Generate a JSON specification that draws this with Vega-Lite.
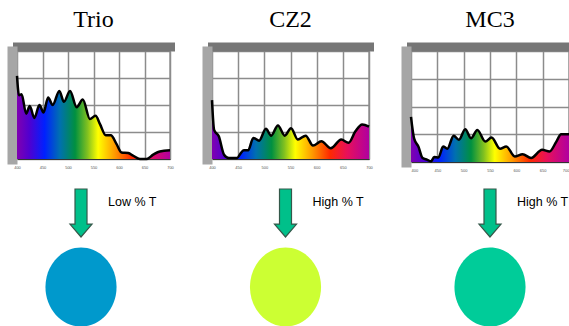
{
  "$schema": "https://vega.github.io/schema/vega-lite/v6.json",
  "autosize": {"type": "pad"},
  "padding": {"left": 7, "top": 6, "right": 0, "bottom": 0},
  "background": "white",
  "config": {
    "view": {"stroke": "#9a9a9a", "strokeWidth": 1.5},
    "title": {"font": "Liberation Serif", "fontSize": 24, "fontWeight": "normal", "color": "black", "offset": 15}
  },
  "datasets": {
    "trio": [
      {"wl": 400, "t": 77}, {"wl": 404, "t": 59}, {"wl": 409, "t": 60}, {"wl": 418, "t": 42},
      {"wl": 425, "t": 49}, {"wl": 434, "t": 38}, {"wl": 444, "t": 50}, {"wl": 452, "t": 43},
      {"wl": 461, "t": 57}, {"wl": 470, "t": 50}, {"wl": 483, "t": 63}, {"wl": 492, "t": 53},
      {"wl": 504, "t": 63}, {"wl": 517, "t": 48}, {"wl": 529, "t": 55}, {"wl": 543, "t": 37},
      {"wl": 554, "t": 40}, {"wl": 563, "t": 32}, {"wl": 574, "t": 22}, {"wl": 584, "t": 22},
      {"wl": 595, "t": 14}, {"wl": 605, "t": 6}, {"wl": 618, "t": 5.5}, {"wl": 628, "t": 3},
      {"wl": 641, "t": 0}, {"wl": 654, "t": 0}, {"wl": 667, "t": 4}, {"wl": 680, "t": 7},
      {"wl": 700, "t": 8}
    ],
    "cz2": [
      {"wl": 400, "t": 54.5}, {"wl": 404, "t": 27}, {"wl": 413, "t": 21}, {"wl": 423, "t": 4},
      {"wl": 432, "t": 1}, {"wl": 448, "t": 1}, {"wl": 455, "t": 5.5}, {"wl": 461, "t": 8},
      {"wl": 469, "t": 8}, {"wl": 479, "t": 19.5}, {"wl": 490, "t": 17}, {"wl": 503, "t": 28},
      {"wl": 513, "t": 21.6}, {"wl": 526, "t": 31}, {"wl": 539, "t": 21.6}, {"wl": 551, "t": 28.5},
      {"wl": 564, "t": 18}, {"wl": 579, "t": 21.6}, {"wl": 593, "t": 12.4}, {"wl": 609, "t": 16.4},
      {"wl": 627, "t": 10}, {"wl": 647, "t": 18}, {"wl": 661, "t": 15}, {"wl": 674, "t": 25.6},
      {"wl": 687, "t": 32}, {"wl": 700, "t": 30}
    ],
    "mc3": [
      {"wl": 400, "t": 40.7}, {"wl": 406, "t": 21}, {"wl": 414, "t": 14}, {"wl": 422, "t": 3.6},
      {"wl": 431, "t": 2}, {"wl": 438, "t": 0.5}, {"wl": 444, "t": 4.5}, {"wl": 452, "t": 4},
      {"wl": 461, "t": 14}, {"wl": 469, "t": 12}, {"wl": 481, "t": 23.7}, {"wl": 491, "t": 20},
      {"wl": 503, "t": 29.4}, {"wl": 514, "t": 21.4}, {"wl": 526, "t": 28.8}, {"wl": 541, "t": 18.4},
      {"wl": 553, "t": 22}, {"wl": 569, "t": 12}, {"wl": 581, "t": 14}, {"wl": 597, "t": 5},
      {"wl": 612, "t": 7}, {"wl": 628, "t": 3.6}, {"wl": 649, "t": 11}, {"wl": 663, "t": 9.5},
      {"wl": 676, "t": 18.4}, {"wl": 685, "t": 25}, {"wl": 700, "t": 25}
    ],
    "samples": [
      {"sample": "Trio", "label": "Low % T", "swatch": "#0099cc"},
      {"sample": "CZ2", "label": "High % T", "swatch": "#ccff33"},
      {"sample": "MC3", "label": "High % T", "swatch": "#00cc99"}
    ]
  },
  "spacing": 13,
  "vconcat": [
    {
      "bounds": "flush",
      "spacing": 42,
      "hconcat": [
        {
          "title": "Trio",
          "width": 153, "height": 108,
          "data": {"name": "trio"},
          "encoding": {
            "y": {"field": "t", "type": "quantitative", "scale": {"domain": [0, 100]},
              "axis": {"values": [0, 25, 50, 75, 100], "grid": true, "gridColor": "#8c8c8c", "gridWidth": 1.5, "gridOpacity": 1,
                "domain": true, "domainColor": "#a6a6a6", "domainWidth": 10, "offset": 5, "domainCap": "square",
                "ticks": false, "labelFontSize": 4, "labelColor": "#333", "labelPadding": -3, "title": null}}
          },
          "layer": [
            {"mark": {"type": "area", "interpolate": "monotone",
              "fill": {"gradient": "linear", "x1": 0, "x2": 1, "y1": 0, "y2": 0, "stops": [
                {"offset": 0, "color": "#8000b0"}, {"offset": 0.08, "color": "#5000d0"}, {"offset": 0.18, "color": "#0020ff"},
                {"offset": 0.28, "color": "#0070b0"}, {"offset": 0.38, "color": "#009040"}, {"offset": 0.46, "color": "#80c020"},
                {"offset": 0.53, "color": "#ffff00"}, {"offset": 0.64, "color": "#ff9900"}, {"offset": 0.75, "color": "#ff2a00"},
                {"offset": 0.86, "color": "#e8105a"}, {"offset": 1, "color": "#b000a0"}]}},
              "encoding": {"x": {"field": "wl", "type": "quantitative", "scale": {"domain": [400, 700], "nice": false, "zero": false},
                "axis": {"orient": "bottom", "values": [400, 450, 500, 550, 600, 650, 700], "grid": true, "gridColor": "#8c8c8c", "gridWidth": 1.5, "gridOpacity": 1,
                  "domain": true, "domainColor": "#333", "domainWidth": 1, "ticks": false, "labelFontSize": 4, "labelColor": "#555", "labelPadding": 6, "labelFlush": false, "title": null}}}},
            {"mark": {"type": "line", "interpolate": "monotone", "color": "black", "strokeWidth": 2.5},
              "encoding": {"x": {"field": "wl", "type": "quantitative",
                "axis": {"orient": "top", "grid": false, "labels": false, "ticks": false, "title": null, "domain": true, "domainColor": "#767676", "domainWidth": 9, "offset": 4.5, "domainCap": "square"}}}}
          ],
          "resolve": {"axis": {"x": "independent"}}
        },
        {
          "title": "CZ2",
          "width": 157, "height": 108,
          "data": {"name": "cz2"},
          "encoding": {
            "y": {"field": "t", "type": "quantitative", "scale": {"domain": [0, 100]},
              "axis": {"values": [0, 25, 50, 75, 100], "grid": true, "gridColor": "#8c8c8c", "gridWidth": 1.5, "gridOpacity": 1,
                "domain": true, "domainColor": "#a6a6a6", "domainWidth": 10, "offset": 5, "domainCap": "square",
                "ticks": false, "labelFontSize": 4, "labelColor": "#333", "labelPadding": -3, "title": null}}
          },
          "layer": [
            {"mark": {"type": "area", "interpolate": "monotone",
              "fill": {"gradient": "linear", "x1": 0, "x2": 1, "y1": 0, "y2": 0, "stops": [
                {"offset": 0, "color": "#8000b0"}, {"offset": 0.08, "color": "#5000d0"}, {"offset": 0.18, "color": "#0020ff"},
                {"offset": 0.28, "color": "#0070b0"}, {"offset": 0.38, "color": "#009040"}, {"offset": 0.46, "color": "#80c020"},
                {"offset": 0.53, "color": "#ffff00"}, {"offset": 0.64, "color": "#ff9900"}, {"offset": 0.75, "color": "#ff2a00"},
                {"offset": 0.86, "color": "#e8105a"}, {"offset": 1, "color": "#b000a0"}]}},
              "encoding": {"x": {"field": "wl", "type": "quantitative", "scale": {"domain": [400, 700], "nice": false, "zero": false},
                "axis": {"orient": "bottom", "values": [400, 450, 500, 550, 600, 650, 700], "grid": true, "gridColor": "#8c8c8c", "gridWidth": 1.5, "gridOpacity": 1,
                  "domain": true, "domainColor": "#333", "domainWidth": 1, "ticks": false, "labelFontSize": 4, "labelColor": "#555", "labelPadding": 6, "labelFlush": false, "title": null}}}},
            {"mark": {"type": "line", "interpolate": "monotone", "color": "black", "strokeWidth": 2.5},
              "encoding": {"x": {"field": "wl", "type": "quantitative",
                "axis": {"orient": "top", "grid": false, "labels": false, "ticks": false, "title": null, "domain": true, "domainColor": "#767676", "domainWidth": 9, "offset": 4.5, "domainCap": "square"}}}}
          ],
          "resolve": {"axis": {"x": "independent"}}
        },
        {
          "title": "MC3",
          "width": 158, "height": 111,
          "data": {"name": "mc3"},
          "encoding": {
            "y": {"field": "t", "type": "quantitative", "scale": {"domain": [0, 100]},
              "axis": {"values": [0, 25, 50, 75, 100], "grid": true, "gridColor": "#8c8c8c", "gridWidth": 1.5, "gridOpacity": 1,
                "domain": true, "domainColor": "#a6a6a6", "domainWidth": 10, "offset": 5, "domainCap": "square",
                "ticks": false, "labelFontSize": 4, "labelColor": "#333", "labelPadding": -3, "title": null}}
          },
          "layer": [
            {"mark": {"type": "area", "interpolate": "monotone",
              "fill": {"gradient": "linear", "x1": 0, "x2": 1, "y1": 0, "y2": 0, "stops": [
                {"offset": 0, "color": "#8000b0"}, {"offset": 0.08, "color": "#5000d0"}, {"offset": 0.18, "color": "#0020ff"},
                {"offset": 0.28, "color": "#0070b0"}, {"offset": 0.38, "color": "#009040"}, {"offset": 0.46, "color": "#80c020"},
                {"offset": 0.53, "color": "#ffff00"}, {"offset": 0.64, "color": "#ff9900"}, {"offset": 0.75, "color": "#ff2a00"},
                {"offset": 0.86, "color": "#e8105a"}, {"offset": 1, "color": "#b000a0"}]}},
              "encoding": {"x": {"field": "wl", "type": "quantitative", "scale": {"domain": [400, 700], "nice": false, "zero": false},
                "axis": {"orient": "bottom", "values": [400, 450, 500, 550, 600, 650, 700], "grid": true, "gridColor": "#8c8c8c", "gridWidth": 1.5, "gridOpacity": 1,
                  "domain": true, "domainColor": "#333", "domainWidth": 1, "ticks": false, "labelFontSize": 4, "labelColor": "#555", "labelPadding": 6, "labelFlush": true, "title": null}}}},
            {"mark": {"type": "line", "interpolate": "monotone", "color": "black", "strokeWidth": 2.5},
              "encoding": {"x": {"field": "wl", "type": "quantitative",
                "axis": {"orient": "top", "grid": false, "labels": false, "ticks": false, "title": null, "domain": true, "domainColor": "#767676", "domainWidth": 9, "offset": 4.5, "domainCap": "square"}}}}
          ],
          "resolve": {"axis": {"x": "independent"}}
        }
      ]
    },
    {
      "width": 537, "height": 74,
      "view": {"stroke": null},
      "data": {"name": "samples"},
      "encoding": {
        "x": {"field": "sample", "type": "nominal", "sort": null, "scale": {"type": "point", "padding": 0.313},
          "axis": {"labels": false, "ticks": false, "grid": false, "title": null, "domain": true, "domainColor": "transparent"}}
      },
      "layer": [
        {"mark": {"type": "point", "filled": true, "opacity": 1, "fill": "#00c08a", "stroke": "#34584a", "strokeWidth": 1.2, "size": 2304,
          "shape": "M -0.25 -1 L 0.25 -1 L 0.25 0.46 L 0.46 0.46 L 0 1 L -0.46 0.46 L -0.25 0.46 Z"},
          "encoding": {"y": {"datum": "arrow", "type": "nominal", "scale": {"type": "point", "domain": ["arrow", "swatch"], "padding": 0}, "axis": null}}},
        {"mark": {"type": "text", "align": "left", "baseline": "middle", "dx": 27, "dy": -11, "font": "Liberation Sans Narrow, Liberation Sans, Arial", "fontSize": 12.5, "color": "black"},
          "encoding": {"y": {"datum": "arrow", "type": "nominal"}, "text": {"field": "label"}}},
        {"mark": {"type": "point", "filled": true, "opacity": 1, "strokeWidth": 0, "size": 6241,
          "shape": "M 0 -1 A 0.9 1 0 1 1 0 1 A 0.9 1 0 1 1 0 -1 Z"},
          "encoding": {"y": {"datum": "swatch", "type": "nominal"}, "color": {"field": "swatch", "type": "nominal", "scale": null, "legend": null}}}
      ]
    }
  ]
}
